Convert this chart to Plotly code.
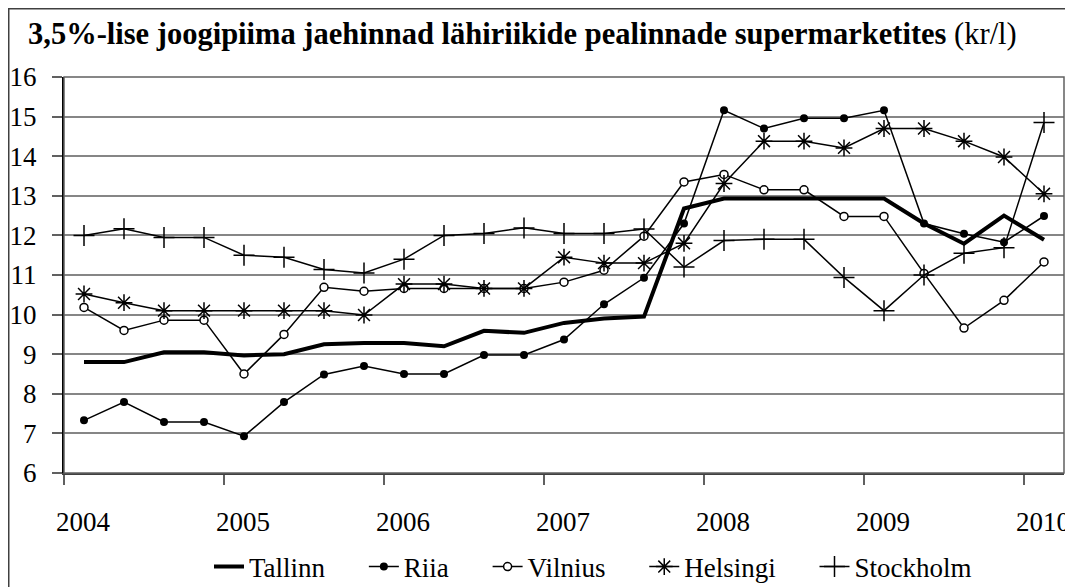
import plotly.graph_objects as go

# Survey months (mid-month readings)
periods = ["2004-02", "2004-05", "2004-08", "2004-11",
           "2005-02", "2005-05", "2005-08", "2005-11",
           "2006-02", "2006-05", "2006-08", "2006-11",
           "2007-02", "2007-05", "2007-08", "2007-11",
           "2008-02", "2008-05", "2008-08", "2008-11",
           "2009-02", "2009-05", "2009-08", "2009-11",
           "2010-02"]

tallinn = [8.80, 8.80, 9.05, 9.05, 8.97, 9.00, 9.25, 9.28,
           9.28, 9.20, 9.59, 9.54, 9.79, 9.90, 9.95, 12.68,
           12.93, 12.93, 12.93, 12.93, 12.93, 12.30, 11.79, 12.50,
           11.89]
riia = [7.33, 7.79, 7.29, 7.29, 6.93, 7.79, 8.49, 8.70,
        8.50, 8.50, 8.98, 8.98, 9.37, 10.26, 10.93, 12.30,
        15.16, 14.70, 14.96, 14.96, 15.16, 12.30, 12.04, 11.83,
        12.49]
vilnius = [10.18, 9.60, 9.86, 9.86, 8.50, 9.50, 10.69, 10.59,
           10.66, 10.66, 10.66, 10.66, 10.82, 11.12, 11.98, 13.35,
           13.54, 13.15, 13.15, 12.48, 12.48, 11.04, 9.66, 10.36,
           11.33]
helsingi = [10.52, 10.30, 10.10, 10.10, 10.10, 10.10, 10.10, 9.99,
            10.77, 10.77, 10.66, 10.66, 11.45, 11.30, 11.30, 11.80,
            13.31, 14.38, 14.38, 14.21, 14.70, 14.70, 14.38, 13.98,
            13.05]
stockholm = [12.00, 12.17, 11.95, 11.95, 11.50, 11.45, 11.14, 11.05,
             11.40, 12.00, 12.05, 12.19, 12.05, 12.05, 12.16, 11.20,
             11.87, 11.90, 11.90, 10.94, 10.10, 11.00, 11.55, 11.69,
             14.85]

series_names = ["Tallinn", "Riia", "Vilnius", "Helsingi", "Stockholm"]

years = [2004, 2005, 2006, 2007, 2008, 2009, 2010]
year_labels = [str(y) for y in years]
y_ticks = list(range(6, 17))

title_bold = "3,5%-lise joogipiima jaehinnad lähiriikide pealinnade supermarketites"
title_unit = "(kr/l)"


def to_decimal_year(p):
    y, m = p.split("-")
    return int(y) + (int(m) - 0.5) / 12.0


x = [to_decimal_year(p) for p in periods]

FONT = "Liberation Serif, Times New Roman, serif"
W, H = 1065, 600
ML, MR, MT = 56, 9, 69
PH = 396
MB = H - MT - PH

PAD = "\u00a0" * 5  # extra spacing between legend entries


def legend_name(i):
    return series_names[i] + (PAD if i < len(series_names) - 1 else "")


fig = go.Figure()

fig.add_trace(go.Scatter(x=x, y=tallinn, name=legend_name(0), mode="lines",
                         line=dict(color="black", width=4)))
fig.add_trace(go.Scatter(x=x, y=riia, name=legend_name(1), mode="lines+markers",
                         line=dict(color="black", width=1.5),
                         marker=dict(symbol="circle", size=8, color="black")))
fig.add_trace(go.Scatter(x=x, y=vilnius, name=legend_name(2), mode="lines+markers",
                         line=dict(color="black", width=1.5),
                         marker=dict(symbol="circle", size=8, color="white",
                                     line=dict(color="black", width=1.5))))
fig.add_trace(go.Scatter(x=x, y=helsingi, name=legend_name(3), mode="lines+markers",
                         line=dict(color="black", width=1.5),
                         marker=dict(symbol="asterisk-open", size=14, color="black",
                                     line=dict(color="black", width=1.5))))
fig.add_trace(go.Scatter(x=x, y=stockholm, name=legend_name(4), mode="lines+markers",
                         line=dict(color="black", width=1.5),
                         marker=dict(symbol="cross-thin-open", size=15, color="black",
                                     line=dict(color="black", width=1.5))))

fig.update_layout(
    width=W, height=H,
    margin=dict(l=ML, r=MR, t=MT, b=MB, autoexpand=False),
    paper_bgcolor="white", plot_bgcolor="white",
    font=dict(family=FONT, size=26, color="black"),
    showlegend=True,
    legend=dict(orientation="h", x=0.145, xanchor="left", y=-94.0 / PH, yanchor="middle",
                font=dict(family=FONT, size=27), itemwidth=30, tracegroupgap=0,
                bgcolor="rgba(0,0,0,0)"),
    annotations=[dict(text="<b>" + title_bold + "</b> " + title_unit,
                      xref="paper", yref="paper", x=-0.038, y=1.0 + (MT - 26) / PH,
                      xanchor="left", yanchor="middle", showarrow=False,
                      font=dict(family=FONT, size=30.5, color="black"))],
    shapes=[
        dict(type="rect", xref="paper", yref="paper",
             x0=-(ML - 0.75) / 1000, x1=1.03,
             y0=-0.4, y1=1 + (MT - 0.75) / PH,
             line=dict(color="#404040", width=1.5), layer="below"),
        dict(type="rect", xref="paper", yref="paper", x0=0, x1=1, y0=0, y1=1,
             line=dict(color="#606060", width=1.5), layer="above"),
    ],
)

fig.update_xaxes(range=[2004, 2010.25], tickvals=years, ticktext=year_labels,
                 ticks="outside", ticklen=10, tickcolor="#606060", tickwidth=1.5,
                 ticklabelshift=19, ticklabelstandoff=14, automargin=False,
                 showline=True, linecolor="#404040", linewidth=2,
                 showgrid=False, zeroline=False,
                 tickfont=dict(family=FONT, size=27))
fig.update_yaxes(range=[6, 16], tickvals=y_ticks,
                 ticks="outside", ticklen=10, tickcolor="#606060", tickwidth=1.5,
                 ticklabelstandoff=10, automargin=False,
                 showline=True, linecolor="black", linewidth=2,
                 showgrid=True, gridcolor="#868686", gridwidth=1.5, zeroline=False,
                 tickfont=dict(family=FONT, size=27))

fig.write_html("out.html")
